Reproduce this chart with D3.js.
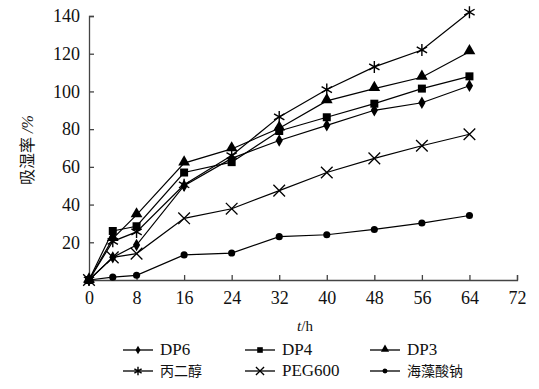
<!DOCTYPE html>
<html lang="zh">
<head>
<meta charset="utf-8">
<title>吸湿率</title>
<script src="https://cdn.jsdelivr.net/npm/d3@7"></script>
<style>
  body { margin: 0; background: #fff; }
</style>
</head>
<body>
<script>
// time points (h)
var hours = [0, 4, 8, 16, 24, 32, 40, 48, 56, 64];
// moisture absorption (%) per sample
var dp6    = [0, 12, 18.5, 50, 64.5, 74, 82, 90, 94, 103];
var dp4    = [0, 26, 28.5, 57, 62.5, 79, 86.3, 93.5, 101.5, 108];
var dp3    = [0, 22, 34.5, 62, 69.5, 80.5, 95, 101.5, 107.5, 121];
var propd  = [0, 20.5, 25.5, 50.5, 66, 86.5, 101, 113, 122, 142];
var peg600 = [0, 12, 14, 32.7, 37.8, 47.4, 57, 64.5, 71.2, 77.3];
var alg    = [0, 1.5, 2.5, 13.3, 14.3, 23, 24, 26.8, 30.2, 34.2];

var seriesNames = ["DP6", "DP4", "DP3", "丙二醇", "PEG600", "海藻酸钠"];
var seriesVals = [dp6, dp4, dp3, propd, peg600, alg];
var markers = ["diamond", "square", "triangle", "star", "cross", "circle"];

var xTicks = [0, 8, 16, 24, 32, 40, 48, 56, 64, 72];
var yTicks = [20, 40, 60, 80, 100, 120, 140];

var SERIF = "'Liberation Serif', 'Times New Roman', 'DejaVu Serif', serif";
var CJK = "'Noto Sans CJK SC', sans-serif";

var W = 539, H = 389;
var svg = d3.select("body").append("svg")
  .attr("width", W)
  .attr("height", H);

var x = d3.scaleLinear().domain([0, 72]).range([89, 517]);
var y = d3.scaleLinear().domain([0, 140]).range([280, 16]);

// axes, ticks pointing inward
var xAxis = svg.append("g")
  .attr("transform", "translate(0," + y(0) + ")")
  .call(d3.axisBottom(x).tickValues(xTicks).tickSize(-5).tickPadding(10));
var yAxis = svg.append("g")
  .attr("transform", "translate(" + x(0) + ",0)")
  .call(d3.axisLeft(y).tickValues(yTicks).tickSize(-5).tickPadding(9));

[xAxis, yAxis].forEach(function (g) {
  g.attr("font-family", null).attr("font-size", null);
  g.select(".domain").attr("stroke", "#444").attr("stroke-width", 1.3);
  g.selectAll(".tick line").attr("stroke", "#444").attr("stroke-width", 1.3);
  g.selectAll(".tick text")
    .style("font-family", SERIF).style("font-size", "18px").attr("fill", "#111");
});
xAxis.selectAll(".tick text").attr("dy", "0.8em");

// marker drawing; s scales the marker (legend uses smaller ones)
function drawMarker(g, type, cx, cy, s) {
  s = s || 1;
  var tr = "translate(" + cx + "," + cy + ") scale(" + s + ")";
  if (type === "diamond") {
    g.append("path").attr("d", d3.symbol(d3.symbolDiamond, 45)())
      .attr("transform", tr).attr("fill", "#000");
  } else if (type === "square") {
    g.append("path").attr("d", d3.symbol(d3.symbolSquare, 64)())
      .attr("transform", tr).attr("fill", "#000");
  } else if (type === "triangle") {
    g.append("path").attr("d", d3.symbol(d3.symbolTriangle, 60)())
      .attr("transform", "translate(" + cx + "," + (cy - 1 * s) + ") scale(" + s + ")")
      .attr("fill", "#000");
  } else if (type === "star") {
    g.append("path").attr("d", d3.symbol(d3.symbolAsterisk, 100)())
      .attr("transform", tr)
      .attr("fill", "none").attr("stroke", "#000").attr("stroke-width", 1.4 / s);
  } else if (type === "cross") {
    g.append("path").attr("d", d3.symbol(d3.symbolTimes, 90)())
      .attr("transform", tr)
      .attr("fill", "none").attr("stroke", "#000").attr("stroke-width", 1.3 / s);
  } else {
    g.append("path").attr("d", d3.symbol(d3.symbolCircle, 40)())
      .attr("transform", tr).attr("fill", "#000");
  }
}

var line = d3.line()
  .x(function (d, i) { return x(hours[i]); })
  .y(function (d) { return y(d); });

seriesVals.forEach(function (vals, k) {
  var g = svg.append("g");
  g.append("path").datum(vals)
    .attr("d", line)
    .attr("fill", "none")
    .attr("stroke", "#000")
    .attr("stroke-width", 1.2);
  vals.forEach(function (v, i) {
    drawMarker(g, markers[k], x(hours[i]), y(v), 1);
  });
});

// axis titles
var yt = svg.append("text")
  .attr("transform", "translate(33,150) rotate(-90)")
  .attr("text-anchor", "middle")
  .attr("fill", "#111");
yt.append("tspan").style("font-family", CJK).style("font-size", "16px").text("吸湿率");
yt.append("tspan").style("font-family", SERIF).style("font-size", "16px")
  .style("font-style", "italic").text(" /%");

var xt = svg.append("text")
  .attr("x", 305).attr("y", 331)
  .attr("text-anchor", "middle")
  .attr("fill", "#111")
  .style("font-family", SERIF).style("font-size", "15px");
xt.append("tspan").style("font-style", "italic").text("t");
xt.append("tspan").text("/h");

// legend
var legX = [123, 245, 370];
var legY = [350, 371];
seriesNames.forEach(function (name, k) {
  var col = k % 3, row = Math.floor(k / 3);
  var lx = legX[col], ly = legY[row];
  var g = svg.append("g");
  g.append("line").attr("x1", lx).attr("x2", lx + 30)
    .attr("y1", ly).attr("y2", ly)
    .attr("stroke", "#000").attr("stroke-width", 1.3);
  drawMarker(g, markers[k], lx + 15, ly, 0.7);
  var isCjk = /[\u4e00-\u9fff]/.test(name);
  g.append("text")
    .attr("x", lx + 37).attr("y", ly + 5)
    .style("font-family", isCjk ? CJK : SERIF)
    .style("font-size", isCjk ? "14px" : "17px")
    .attr("fill", "#111")
    .text(name);
});
</script>
</body>
</html>
